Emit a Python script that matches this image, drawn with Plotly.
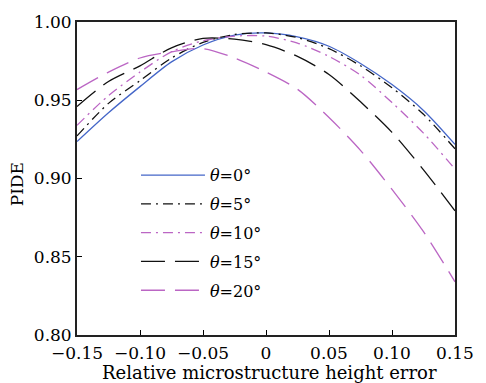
import plotly.graph_objects as go

x_err = [-0.15, -0.125, -0.10, -0.075, -0.05, -0.025, 0, 0.025, 0.05, 0.075, 0.10, 0.125, 0.15]
pide_0 = [0.9236, 0.942, 0.9587, 0.9745, 0.9853, 0.9916, 0.993, 0.9905, 0.9845, 0.9735, 0.960, 0.9435, 0.9218]
pide_5 = [0.9272, 0.948, 0.9625, 0.977, 0.987, 0.992, 0.993, 0.990, 0.983, 0.972, 0.958, 0.941, 0.919]
pide_10 = [0.934, 0.953, 0.968, 0.981, 0.988, 0.991, 0.991, 0.9865, 0.978, 0.966, 0.9485, 0.929, 0.906]
pide_15 = [0.946, 0.962, 0.972, 0.9835, 0.9895, 0.989, 0.9855, 0.978, 0.9665, 0.949, 0.9295, 0.9055, 0.8794]
pide_20 = [0.9568, 0.968, 0.977, 0.981, 0.983, 0.977, 0.968, 0.957, 0.939, 0.918, 0.893, 0.866, 0.834]

names = ["<i>θ</i>=0°", "<i>θ</i>=5°", "<i>θ</i>=10°", "<i>θ</i>=15°", "<i>θ</i>=20°"]
x_ticks = [-0.15, -0.10, -0.05, 0, 0.05, 0.10, 0.15]
x_tick_text = ["−0.15", "−0.10", "−0.05", "0", "0.05", "0.10", "0.15"]
y_ticks = [0.80, 0.85, 0.90, 0.95, 1.00]
x_title = "Relative microstructure height error"
y_title = "PIDE"

BLUE = "#4466c8"
MAG = "#bb66c4"
styles = [
    dict(color=BLUE, dash="solid"),
    dict(color="#111111", dash="10px,5px,2px,5px"),
    dict(color=MAG, dash="10px,5px,2px,5px"),
    dict(color="#111111", dash="24px,10px"),
    dict(color=MAG, dash="24px,10px"),
]
series = [pide_0, pide_5, pide_10, pide_15, pide_20]

FONT = "DejaVu Serif"
fig = go.Figure()
for i, (nm, ys, st) in enumerate(zip(names, series, styles)):
    fig.add_trace(go.Scatter(
        x=x_err, y=ys, mode="lines", name=nm, legendgroup=f"g{i}",
        line=dict(color=st["color"], dash=st["dash"], width=1.3, shape="spline", smoothing=0.8),
    ))

fig.update_layout(
    width=486, height=383,
    margin=dict(l=77, r=23, t=20, b=48),
    paper_bgcolor="white", plot_bgcolor="white",
    font=dict(family=FONT, size=17, color="black"),
    showlegend=True,
    legend=dict(x=0.156, y=0.565, xanchor="left", yanchor="top",
                bgcolor="rgba(0,0,0,0)", tracegroupgap=5, itemwidth=64,
                font=dict(family=FONT, size=16)),
    xaxis=dict(range=[-0.15, 0.15], tickvals=x_ticks, ticktext=x_tick_text,
               ticks="inside", ticklen=5, tickcolor="black", tickwidth=1.2,
               showline=True, linecolor="#222222", linewidth=1.8, mirror=True,
               showgrid=False, zeroline=False, tickfont=dict(size=17),
               ticklabelstandoff=2),
    yaxis=dict(range=[0.80, 1.00], tickvals=y_ticks, tickformat=".2f",
               ticks="inside", ticklen=5, tickcolor="black", tickwidth=1.2,
               showline=True, linecolor="#222222", linewidth=1.8, mirror=True,
               showgrid=False, zeroline=False, tickfont=dict(size=17)),
    annotations=[
        dict(text=x_title, xref="paper", yref="paper", x=0.51, y=-0.1206,
             xanchor="center", yanchor="middle", showarrow=False,
             font=dict(family=FONT, size=18)),
        dict(text=y_title, xref="paper", yref="paper", x=-0.16, y=0.48,
             xanchor="center", yanchor="middle", showarrow=False, textangle=-90,
             font=dict(family=FONT, size=17)),
    ],
)

fig.write_html("out.html", config={"displayModeBar": False},
               post_script="document.body.style.margin='0px';document.body.style.padding='0px';")
